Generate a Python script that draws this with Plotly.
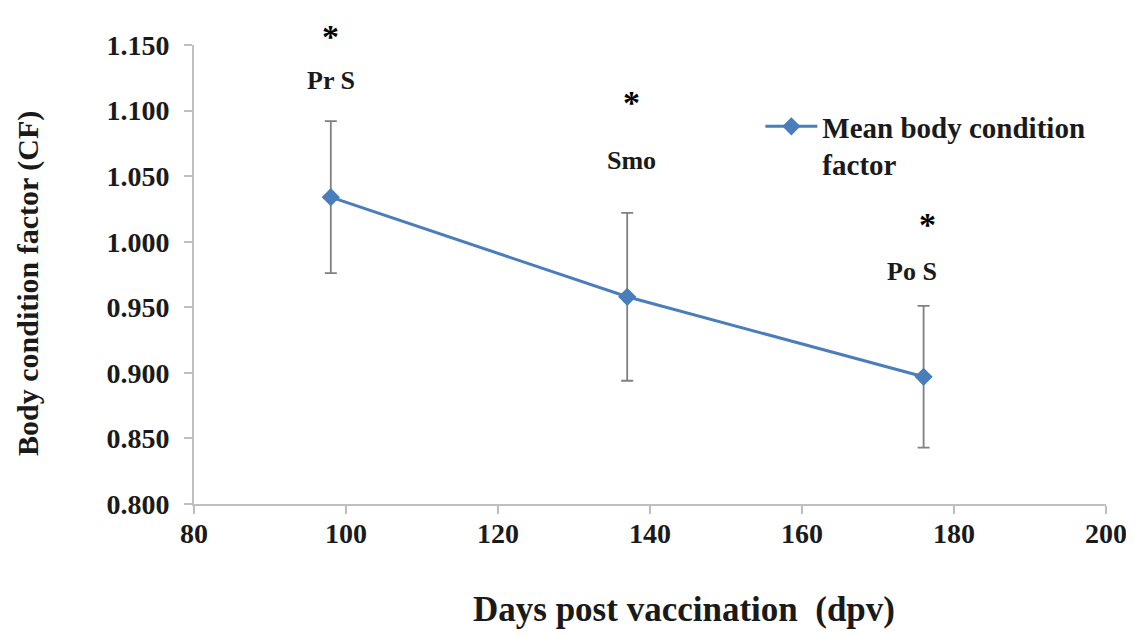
import plotly.graph_objects as go

days = [98, 137, 176]
mean_cf = [1.034, 0.958, 0.897]
err_cf = [0.058, 0.064, 0.054]
stage_labels = ["Pr S", "Smo", "Po S"]
stage_x = [98, 137.5, 174.5]
stage_y = [1.123, 1.062, 0.977]
star_x = [98, 137.5, 176.5]
star_y = [1.172, 1.106, 1.013]

x_ticks = [80, 100, 120, 140, 160, 180, 200]
y_ticks = [0.800, 0.850, 0.900, 0.950, 1.000, 1.050, 1.100, 1.150]

FONT = "Liberation Serif, Times New Roman, serif"
BLUE = "#4A7EBB"
AXIS = "#BFBFBF"
TXT = "#1a1a1a"

# page has an 8px body margin; figure drawn 8px smaller so it fits the window
OFF = 8
W, H = 1134 - OFF, 635 - OFF
L, R, T, B = 194 - OFF, 28, 45 - OFF, 131
PW, PH = W - L - R, H - T - B
Y0, Y1 = 0.8, 1.15


def page_x(px):
    return (px - OFF - L) / PW


def page_y(py):
    return (H - B - (py - OFF)) / PH


fig = go.Figure()
fig.add_trace(go.Scatter(
    x=days, y=mean_cf,
    mode="lines+markers",
    name="<b>Mean body condition<br>factor</b>",
    line=dict(color=BLUE, width=3),
    marker=dict(symbol="diamond", size=14, color=BLUE),
    error_y=dict(type="data", array=err_cf, visible=True,
                 color="#808080", thickness=1.8, width=6),
))

annotations = []
for lx, ly, lt in zip(stage_x, stage_y, stage_labels):
    annotations.append(dict(x=lx, y=(ly - Y0) / (Y1 - Y0), xref="x", yref="paper",
                            xanchor="center", yanchor="middle", text="<b>" + lt + "</b>",
                            showarrow=False, font=dict(family=FONT, size=26, color=TXT)))
for i, (sx, sy) in enumerate(zip(star_x, star_y)):
    yp = (sy - Y0) / (Y1 - Y0)
    anchor = "middle"
    if i == 0:
        # keep the top star's text box inside the figure
        yp = min(yp, 1 + T / PH)
        anchor = "top"
    annotations.append(dict(x=sx, y=yp, xref="x", yref="paper",
                            xanchor="center", yanchor=anchor, text="<b>*</b>",
                            showarrow=False, font=dict(family=FONT, size=34, color="black")))
# axis titles
annotations.append(dict(x=page_x(684), y=page_y(609), xref="paper", yref="paper",
                        xanchor="center", yanchor="middle",
                        text="<b>Days post vaccination  (dpv)</b>", showarrow=False,
                        font=dict(family=FONT, size=35, color=TXT)))
annotations.append(dict(x=page_x(28), y=page_y(284), xref="paper", yref="paper",
                        xanchor="center", yanchor="middle",
                        text="<b>Body condition factor (CF)</b>", showarrow=False, textangle=-90,
                        font=dict(family=FONT, size=30, color=TXT)))

fig.update_layout(
    width=W, height=H,
    margin=dict(l=L, r=R, t=T, b=B),
    paper_bgcolor="white", plot_bgcolor="white",
    font=dict(family=FONT, color=TXT),
    showlegend=True,
    legend=dict(x=0.621, y=0.878, xanchor="left", yanchor="top",
                bgcolor="rgba(0,0,0,0)", valign="top",
                font=dict(family=FONT, size=29, color=TXT),
                itemwidth=52, tracegroupgap=0),
    annotations=annotations,
)
fig.update_xaxes(
    range=[80, 200], tickvals=x_ticks, ticktext=["<b>%d</b>" % v for v in x_ticks],
    showline=True, linecolor=AXIS, linewidth=2, showgrid=False, zeroline=False,
    ticks="outside", ticklen=8, tickcolor=AXIS, tickwidth=1.5, automargin=False,
    ticklabelstandoff=-5,
    tickfont=dict(family=FONT, size=28, color=TXT),
)
fig.update_yaxes(
    range=[Y0, Y1], tickvals=y_ticks, ticktext=["<b>%.3f</b>" % v for v in y_ticks],
    showline=True, linecolor=AXIS, linewidth=2, showgrid=False, zeroline=False,
    ticks="outside", ticklen=8, tickcolor=AXIS, tickwidth=1.5, automargin=False,
    ticklabelstandoff=9,
    tickfont=dict(family=FONT, size=28, color=TXT),
)

fig.write_html("out.html")
